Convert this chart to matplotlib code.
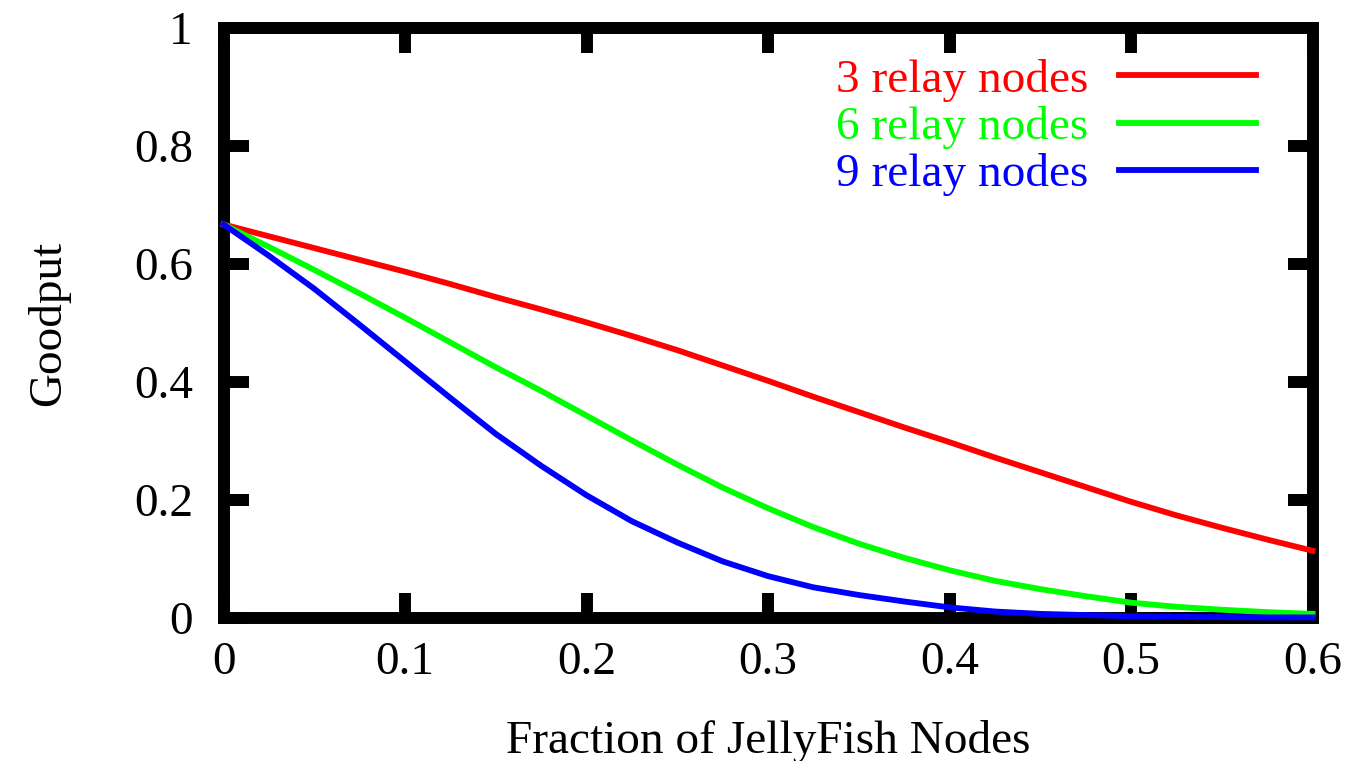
import matplotlib
matplotlib.use("Agg")
import matplotlib.pyplot as plt
import numpy as np

plt.rcParams['font.family'] = ['Liberation Serif', 'DejaVu Serif']

# fraction of jellyfish nodes vs goodput, one curve per relay count
frac = [0.0, 0.025, 0.05, 0.075, 0.1, 0.125, 0.15, 0.175, 0.2, 0.225, 0.25, 0.275,
        0.3, 0.325, 0.35, 0.375, 0.4, 0.425, 0.45, 0.475, 0.5, 0.525, 0.55, 0.575, 0.6]
relay3 = [0.667, 0.647, 0.627, 0.607, 0.587, 0.566, 0.544, 0.523, 0.501, 0.478, 0.454, 0.428,
          0.402, 0.375, 0.349, 0.323, 0.298, 0.272, 0.247, 0.222, 0.197, 0.174, 0.153, 0.133, 0.114]
relay6 = [0.667, 0.629, 0.590, 0.550, 0.509, 0.467, 0.425, 0.385, 0.343, 0.301, 0.260, 0.221,
          0.186, 0.154, 0.126, 0.102, 0.081, 0.063, 0.049, 0.037, 0.026, 0.019, 0.014, 0.010, 0.007]
relay9 = [0.667, 0.614, 0.558, 0.497, 0.435, 0.373, 0.312, 0.258, 0.208, 0.164, 0.128, 0.096,
          0.071, 0.052, 0.039, 0.028, 0.018, 0.011, 0.007, 0.005, 0.003, 0.002, 0.0015, 0.001, 0.001]
labels = ['3 relay nodes', '6 relay nodes', '9 relay nodes']
colors = ['#ff0000', '#00ff00', '#0000ff']

xticks = [0, 0.1, 0.2, 0.3, 0.4, 0.5, 0.6]
xticklabels = ['0', '0.1', '0.2', '0.3', '0.4', '0.5', '0.6']
yticks = [0, 0.2, 0.4, 0.6, 0.8, 1]
yticklabels = ['0', '0.2', '0.4', '0.6', '0.8', '1']

fig = plt.figure(figsize=(13.54, 7.61), dpi=100)
ax = fig.add_axes([0.1651, 0.1879, 0.8043, 0.7753])

for ys, lab, c in zip([relay3, relay6, relay9], labels, colors):
    ax.plot(frac, ys, color=c, lw=4.2, label=lab, zorder=3, clip_on=False,
            solid_joinstyle='round')

ax.set_xlim(0, 0.6)
ax.set_ylim(0, 1)
ax.set_xticks(xticks)
ax.set_xticklabels(xticklabels)
ax.set_yticks(yticks)
ax.set_yticklabels(yticklabels)

for sp in ax.spines.values():
    sp.set_linewidth(8.6)
    sp.set_capstyle('projecting')
    sp.set_zorder(2.5)

ax.tick_params(axis='both', which='major', direction='in', length=18, width=8.6,
               top=True, right=True, labelsize=34)
ax.tick_params(axis='x', pad=17)
ax.tick_params(axis='y', pad=22)

ax.set_xlabel('Fraction of JellyFish Nodes', fontsize=34, labelpad=26)
ax.set_ylabel('Goodput', fontsize=34, labelpad=46)

leg = ax.legend(loc='upper right', bbox_to_anchor=(0.948, 0.948), frameon=False,
                markerfirst=False, labelcolor='linecolor', fontsize=34,
                handlelength=2.9, handletextpad=0.65, labelspacing=0.09,
                borderaxespad=0, borderpad=0)

fig.savefig('out.png', dpi=100)
